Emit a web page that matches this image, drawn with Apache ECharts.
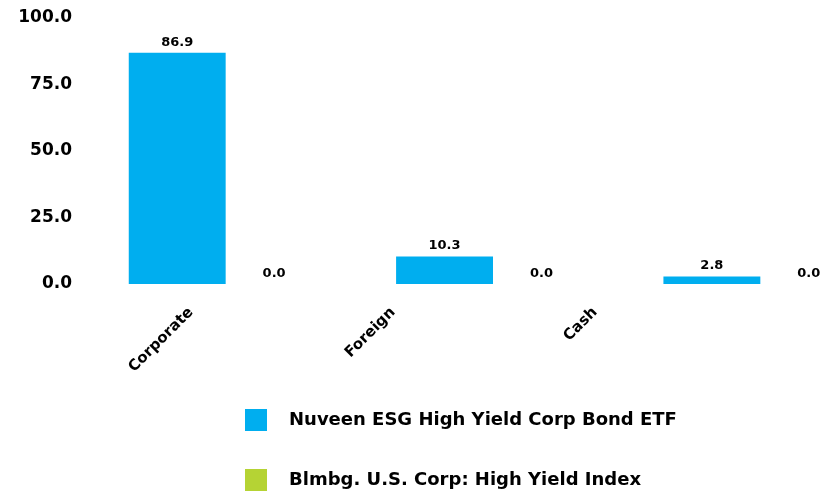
<!DOCTYPE html>
<html>
<head>
<meta charset="utf-8">
<script src="https://cdn.jsdelivr.net/npm/echarts@6/dist/echarts.min.js"></script>
<style>html,body{margin:0;padding:0;background:#fff;overflow:hidden;width:835px;height:495px}#c{width:900px;height:495px}</style>
</head>
<body>
<div id="c"></div>
<script>
const categories = ["Corporate", "Foreign", "Cash"];
const seriesNames = ["Nuveen ESG High Yield Corp Bond ETF", "Blmbg. U.S. Corp: High Yield Index"];
const fundValues = [86.9, 10.3, 2.8];
const indexValues = [0.0, 0.0, 0.0];
const yTicks = { min: 0, max: 100, interval: 25 };

const FONT = "DejaVu Sans";
const chart = echarts.init(document.getElementById('c'));
const labelCfg = {
  show: true, position: 'top', distance: 4, color: '#000',
  fontFamily: FONT, fontWeight: 'bold', fontSize: 13,
  formatter: p => Number(p.value).toFixed(1)
};
chart.setOption({
  animation: false,
  textStyle: { fontFamily: FONT },
  grid: [
    { left: 92, width: 802, top: 18, bottom: 211 },
    { left: 90, width: 606, top: 18, bottom: 211 }
  ],
  legend: {
    orient: 'vertical', left: 245, top: 409, padding: 0,
    itemWidth: 22, itemHeight: 22, itemGap: 38, icon: 'rect',
    textStyle: { fontFamily: FONT, fontSize: 18, fontWeight: 'bold', color: '#000', padding: [0, 0, 0, 17] },
    data: seriesNames
  },
  xAxis: [
    { type: 'category', gridIndex: 0, data: categories,
      axisLine: { show: false }, axisTick: { show: false }, axisLabel: { show: false } },
    { type: 'category', gridIndex: 1, data: categories,
      axisLine: { show: false }, axisTick: { show: false },
      axisLabel: { rotate: 45, interval: 0, margin: 26, fontFamily: FONT, fontSize: 15, fontWeight: 'bold', color: '#000' } }
  ],
  yAxis: [
    { type: 'value', gridIndex: 0, min: yTicks.min, max: yTicks.max, interval: yTicks.interval,
      axisLine: { show: false }, axisTick: { show: false }, splitLine: { show: false },
      axisLabel: { margin: 20, padding: [5, 0, 0, 0], fontFamily: FONT, fontSize: 17, fontWeight: 'bold', color: '#000',
        formatter: v => v.toFixed(1) } },
    { type: 'value', gridIndex: 1, min: 0, max: 1, show: false }
  ],
  series: [
    { name: seriesNames[0], type: 'bar', xAxisIndex: 0, yAxisIndex: 0, data: fundValues,
      itemStyle: { color: '#00AEEF' }, barGap: '0%', barCategoryGap: '27.5%', label: labelCfg },
    { name: seriesNames[1], type: 'bar', xAxisIndex: 0, yAxisIndex: 0, data: indexValues,
      itemStyle: { color: '#B5D334' }, label: labelCfg }
  ]
});
</script>
</body>
</html>
